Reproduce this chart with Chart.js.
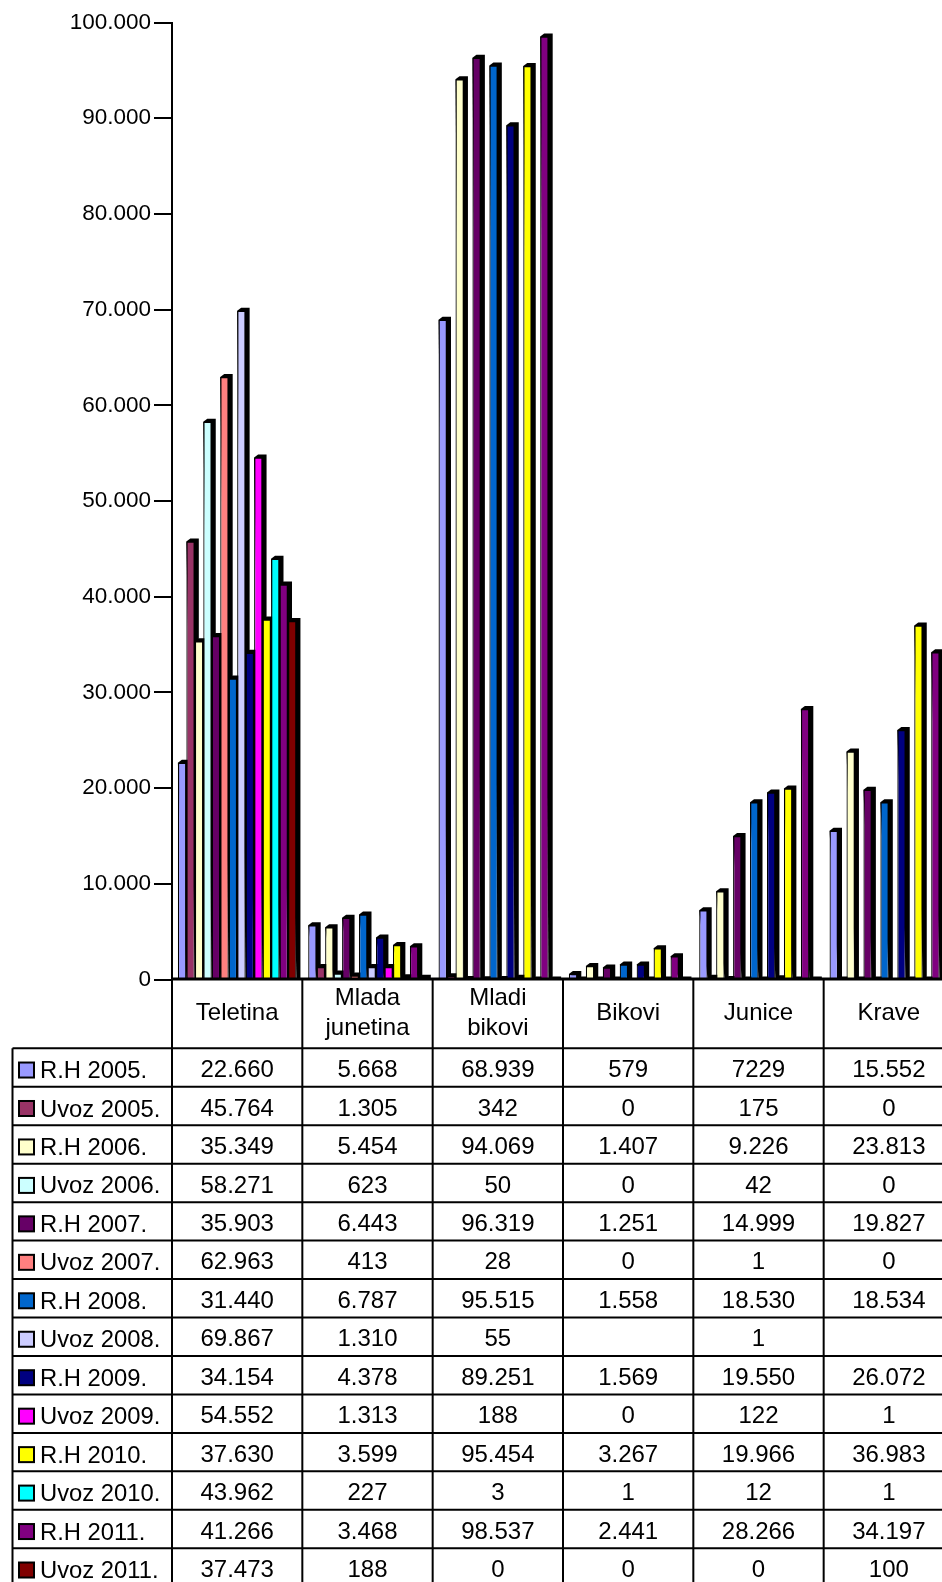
<!DOCTYPE html>
<html>
<head>
<meta charset="utf-8">
<title>Teletina</title>
<script src="https://cdn.jsdelivr.net/npm/chart.js@4"></script>
<style>
  html, body { margin: 0; padding: 0; background: #fff; overflow: hidden; }
  canvas { display: block; }
</style>
</head>
<body>
<canvas id="chart" width="960" height="1600"></canvas>
<script>
const categories = ['Teletina', ['Mlada', 'junetina'], ['Mladi', 'bikovi'], 'Bikovi', 'Junice', 'Krave']
const yTicks = [0, 10000, 20000, 30000, 40000, 50000, 60000, 70000, 80000, 90000, 100000]

const seriesNames = ['R.H 2005.', 'Uvoz 2005.', 'R.H 2006.', 'Uvoz 2006.', 'R.H 2007.', 'Uvoz 2007.', 'R.H 2008.',
  'Uvoz 2008.', 'R.H 2009.', 'Uvoz 2009.', 'R.H 2010.', 'Uvoz 2010.', 'R.H 2011.', 'Uvoz 2011.']
const seriesColors = ['#9999FF', '#993366', '#FFFFCC', '#CCFFFF', '#660066', '#FF8080', '#0066CC',
  '#CCCCFF', '#000080', '#FF00FF', '#FFFF00', '#00FFFF', '#800080', '#800000']

const rh2005   = [22660, 5668, 68939, 579, 7229, 15552]
const uvoz2005 = [45764, 1305, 342, 0, 175, 0]
const rh2006   = [35349, 5454, 94069, 1407, 9226, 23813]
const uvoz2006 = [58271, 623, 50, 0, 42, 0]
const rh2007   = [35903, 6443, 96319, 1251, 14999, 19827]
const uvoz2007 = [62963, 413, 28, 0, 1, 0]
const rh2008   = [31440, 6787, 95515, 1558, 18530, 18534]
const uvoz2008 = [69867, 1310, 55, null, 1, null]
const rh2009   = [34154, 4378, 89251, 1569, 19550, 26072]
const uvoz2009 = [54552, 1313, 188, 0, 122, 1]
const rh2010   = [37630, 3599, 95454, 3267, 19966, 36983]
const uvoz2010 = [43962, 227, 3, 1, 12, 1]
const rh2011   = [41266, 3468, 98537, 2441, 28266, 34197]
const uvoz2011 = [37473, 188, 0, 0, 0, 100]

const seriesValues = [rh2005, uvoz2005, rh2006, uvoz2006, rh2007, uvoz2007, rh2008,
  uvoz2008, rh2009, uvoz2009, rh2010, uvoz2010, rh2011, uvoz2011]

// the source table prints this one without a thousands dot
const undotted = [7229]

const fontFamily = '"Liberation Sans", Arial, sans-serif'
const depthX = 4, depthY = 3
const rowTop = 1048.3, rowHeight = 38.46

function dotted(n) {
  if (n === null) return ''
  if (undotted.includes(n)) return String(n)
  return String(n).replace(/\B(?=(\d{3})+$)/g, '.')
}

// 3D look: black side and top behind every bar, then the bar itself, left to right
const barDepth = {
  id: 'barDepth',
  beforeDatasetsDraw(chart) {
    const ctx = chart.ctx
    const base = chart.scales.y.getPixelForValue(0)
    seriesValues.forEach((values, i) => {
      const meta = chart.getDatasetMeta(i)
      ctx.save()
      ctx.fillStyle = '#000'
      meta.data.forEach((bar, k) => {
        if (values[k] === null) return
        const left = bar.x - bar.width / 2
        const right = bar.x + bar.width / 2
        ctx.beginPath()
        ctx.moveTo(left, bar.y)
        ctx.lineTo(left + depthX, bar.y - depthY)
        ctx.lineTo(right + depthX, bar.y - depthY)
        ctx.lineTo(right + depthX, base)
        ctx.lineTo(right, base)
        ctx.closePath()
        ctx.fill()
      })
      ctx.restore()
      meta.controller.draw()
    })
    return false
  }
}

const dataTable = {
  id: 'dataTable',
  afterDraw(chart) {
    const ctx = chart.ctx
    const x = chart.scales.x
    const base = chart.scales.y.getPixelForValue(0)
    const colWidth = x.getPixelForValue(1) - x.getPixelForValue(0)
    const tableBottom = rowTop + rowHeight * seriesNames.length
    ctx.save()
    ctx.strokeStyle = '#000'
    ctx.lineWidth = 3
    ctx.beginPath()
    ctx.moveTo(x.left, base - 0.5)
    ctx.lineTo(x.right, base - 0.5)
    ctx.stroke()

    ctx.lineWidth = 2
    ctx.beginPath()
    for (let c = 0; c <= categories.length; c++) {
      ctx.moveTo(x.left + c * colWidth, base)
      ctx.lineTo(x.left + c * colWidth, tableBottom)
    }
    ctx.moveTo(12.5, rowTop)
    ctx.lineTo(12.5, tableBottom)
    for (let r = 0; r <= seriesNames.length; r++) {
      ctx.moveTo(12.5, rowTop + r * rowHeight)
      ctx.lineTo(x.right, rowTop + r * rowHeight)
    }
    ctx.stroke()

    ctx.textBaseline = 'middle'
    seriesNames.forEach((name, r) => {
      const mid = rowTop + (r + 0.5) * rowHeight
      ctx.fillStyle = seriesColors[r]
      ctx.strokeStyle = '#000'
      ctx.lineWidth = 2
      ctx.fillRect(19, mid - 5, 15, 15)
      ctx.strokeRect(19, mid - 5, 15, 15)
      ctx.fillStyle = '#000'
      ctx.textAlign = 'left'
      ctx.font = '23.8px ' + fontFamily
      ctx.fillText(name, 40, mid + 4)
      ctx.textAlign = 'center'
      ctx.font = '24px ' + fontFamily
      seriesValues[r].forEach((v, c) => {
        ctx.fillText(dotted(v), x.getPixelForValue(c), mid + 3)
      })
    })
    ctx.restore()
  }
}

new Chart(document.getElementById('chart').getContext('2d'), {
  type: 'bar',
  data: {
    labels: categories,
    datasets: seriesNames.map((name, i) => ({
      label: name,
      data: seriesValues[i],
      backgroundColor: seriesColors[i],
      borderColor: '#000',
      borderWidth: 1.25,
      categoryPercentage: 0.91,
      barPercentage: 1
    }))
  },
  options: {
    responsive: false,
    animation: false,
    layout: { padding: { top: 22.5, right: 6, left: 0, bottom: 0 } },
    plugins: { legend: { display: false }, tooltip: { enabled: false }, title: { display: false } },
    scales: {
      x: {
        afterFit: s => { s.height = 620.5 },
        grid: { display: false },
        border: { display: false },
        ticks: {
          color: '#000',
          font: { family: fontFamily, size: 24, lineHeight: 1.25 },
          padding: 11,
          maxRotation: 0,
          autoSkip: false,
          crossAlign: 'center'
        }
      },
      y: {
        min: 0,
        max: 100000,
        afterFit: s => { s.width = 172 },
        afterBuildTicks: s => { s.ticks = yTicks.map(value => ({ value })) },
        grid: { drawOnChartArea: false, color: '#000', lineWidth: 2, tickLength: 18 },
        border: { color: '#000', width: 2 },
        ticks: {
          color: '#000',
          font: { family: fontFamily, size: 22.5 },
          padding: 3,
          callback: v => dotted(v)
        }
      }
    }
  },
  plugins: [barDepth, dataTable]
})
</script>
</body>
</html>
